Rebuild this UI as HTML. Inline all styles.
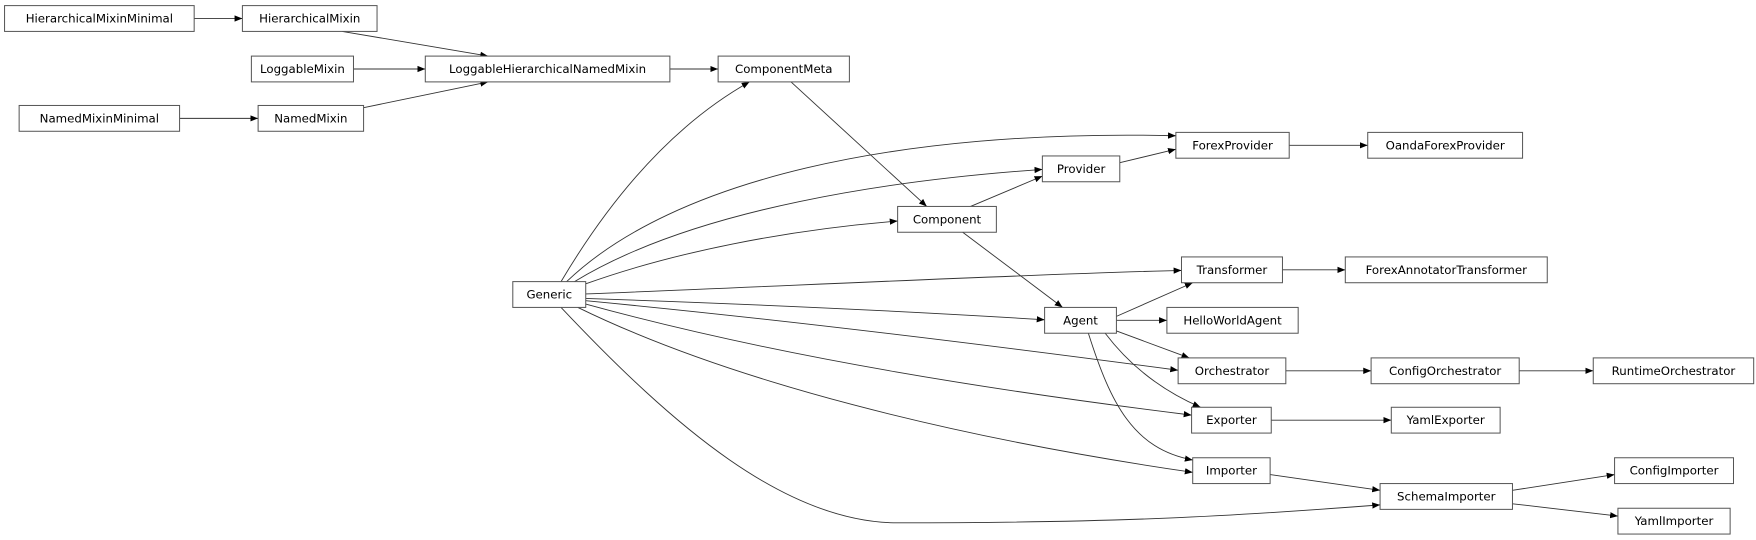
<!DOCTYPE html>
<html><head><meta charset="utf-8"><style>
html,body{margin:0;padding:0;background:#fff;width:1756px;height:540px;overflow:hidden}
svg text{font-family:"DejaVu Sans","Liberation Sans",sans-serif;font-size:10.5px;fill:#000;text-anchor:middle;dominant-baseline:central}
rect{fill:#fff;stroke:#555;stroke-width:0.9}
path{fill:none;stroke:#333;stroke-width:0.8}
</style></head><body>
<svg width="1756" height="540" viewBox="0 0 1565 481.3" xmlns="http://www.w3.org/2000/svg">
<defs><marker id="a" viewBox="0 0 10 10" refX="10" refY="5" markerWidth="7" markerHeight="7" markerUnits="userSpaceOnUse" orient="auto"><path d="M0,1 L10,5 L0,9z" style="fill:#000;stroke:none"/></marker></defs>
<g marker-end="url(#a)">
<path d="M173,16.5 L216,16.5"/>
<path d="M305,28 L435,50"/>
<path d="M315,61.5 L379,61.5"/>
<path d="M324,96 L435,73"/>
<path d="M160,105.5 L230,105.5"/>
<path d="M597,61.5 L640,61.5"/>
<path d="M705,73 L826,184"/>
<path d="M865,184 L929,157"/>
<path d="M998,145 L1048,133"/>
<path d="M1149,129.5 L1219,129.5"/>
<path d="M858,207 L947,274"/>
<path d="M1143,240.5 L1199,240.5"/>
<path d="M995,282 L1063,252"/>
<path d="M995,285.5 L1040,285.5"/>
<path d="M995,295 L1060,319"/>
<path d="M985,297 C1010,330 1040,350 1070,363"/>
<path d="M970,297 C990,360 1010,400 1063,410"/>
<path d="M1146,330.5 L1222,330.5"/>
<path d="M1354,330.5 L1420,330.5"/>
<path d="M1133,374.5 L1240,374.5"/>
<path d="M1132,423 L1230,437"/>
<path d="M1348,437 L1439,423"/>
<path d="M1348,449 L1442,460"/>
<path d="M500,251 C560,150 620,100 668,73"/>
<path d="M505,251 C600,160 800,115 1048,121"/>
<path d="M512,251 C620,185 800,160 929,151"/>
<path d="M522,253 C600,225 700,205 800,197"/>
<path d="M522,262 C700,255 900,245 1053,241"/>
<path d="M522,266 C700,272 850,280 931,285"/>
<path d="M522,268 C700,285 900,310 1050,330"/>
<path d="M522,271 C700,320 900,350 1062,370"/>
<path d="M515,274 C650,340 850,390 1063,421"/>
<path d="M500,274 C600,380 700,466 800,466 C1000,466 1100,460 1230,450"/>
</g>
<g>
<rect x="4" y="5" width="169" height="23"/><text x="88.5" y="16.5">HierarchicalMixinMinimal</text>
<rect x="216" y="5" width="120" height="23"/><text x="276" y="16.5">HierarchicalMixin</text>
<rect x="224" y="50" width="91" height="23"/><text x="269.5" y="61.5">LoggableMixin</text>
<rect x="379" y="50" width="218" height="23"/><text x="488" y="61.5">LoggableHierarchicalNamedMixin</text>
<rect x="640" y="50" width="117" height="23"/><text x="698.5" y="61.5">ComponentMeta</text>
<rect x="17" y="94" width="143" height="23"/><text x="88.5" y="105.5">NamedMixinMinimal</text>
<rect x="230" y="94" width="94" height="23"/><text x="277" y="105.5">NamedMixin</text>
<rect x="457" y="251" width="65" height="23"/><text x="489.5" y="262.5">Generic</text>
<rect x="1048" y="118" width="101" height="23"/><text x="1098.5" y="129.5">ForexProvider</text>
<rect x="1219" y="118" width="138" height="23"/><text x="1288" y="129.5">OandaForexProvider</text>
<rect x="929" y="139" width="69" height="23"/><text x="963.5" y="150.5">Provider</text>
<rect x="800" y="184" width="88" height="23"/><text x="844" y="195.5">Component</text>
<rect x="1053" y="229" width="90" height="23"/><text x="1098" y="240.5">Transformer</text>
<rect x="1199" y="229" width="180" height="23"/><text x="1289" y="240.5">ForexAnnotatorTransformer</text>
<rect x="931" y="274" width="64" height="23"/><text x="963" y="285.5">Agent</text>
<rect x="1040" y="274" width="117" height="23"/><text x="1098.5" y="285.5">HelloWorldAgent</text>
<rect x="1050" y="319" width="96" height="23"/><text x="1098" y="330.5">Orchestrator</text>
<rect x="1222" y="319" width="132" height="23"/><text x="1288" y="330.5">ConfigOrchestrator</text>
<rect x="1420" y="319" width="143" height="23"/><text x="1491.5" y="330.5">RuntimeOrchestrator</text>
<rect x="1062" y="363" width="71" height="23"/><text x="1097.5" y="374.5">Exporter</text>
<rect x="1240" y="363" width="97" height="23"/><text x="1288.5" y="374.5">YamlExporter</text>
<rect x="1063" y="408" width="69" height="23"/><text x="1097.5" y="419.5">Importer</text>
<rect x="1230" y="431" width="118" height="23"/><text x="1289" y="442.5">SchemaImporter</text>
<rect x="1439" y="408" width="106" height="23"/><text x="1492" y="419.5">ConfigImporter</text>
<rect x="1442" y="453" width="100" height="23"/><text x="1492" y="464.5">YamlImporter</text>
</g>
</svg>
</body></html>
